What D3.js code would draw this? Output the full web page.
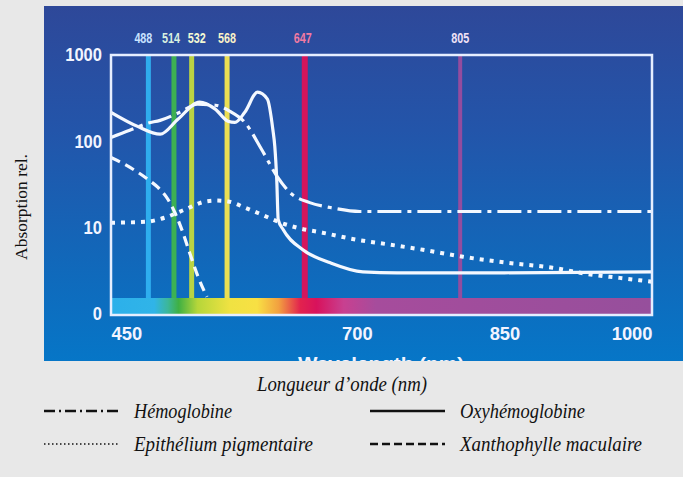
<!DOCTYPE html>
<html><head><meta charset="utf-8">
<script src="https://cdn.jsdelivr.net/npm/d3@7"></script>
<style>body{margin:0;background:#e8e8e8;} svg{display:block}</style>
</head><body>
<svg id="c" width="683" height="477"></svg>
<script>
// ---------- data ----------
const laserNm = [488, 514, 532, 568, 647, 805];
const laserLabels = ["488", "514", "532", "568", "647", "805"];
const xTicks = [450, 700, 850, 1000];
const yTicks = [1, 10, 100, 1000];
const yTickLabels = ["0", "10", "100", "1000"];
const hemoglobine = [[450,111],[469,134],[487,162],[500,175],[520,217],[538,269],[556,262],[571,223],[586,166],[603,81],[619,39],[632,25.5],[652,19.5],[673,17.1],[703,15.4],[800,15.4],[1000,15.4]];
const oxyhemoglobine = [[450,217],[477,149],[500,121],[518,180],[540,284],[556,236],[569,171],[576,166],[586,217],[599,371],[609,308],[614.5,138],[616.5,88],[618.5,36],[620,12.4],[625,9.5],[645,5.55],[673,3.92],[706,3.08],[741,3.0],[850,3.0],[1000,3.08]];
const epithelium = [[450,11.4],[485,11.7],[505,13.1],[525,16.2],[546,20.1],[556,20.6],[569,20.1],[586,17.1],[603,14.2],[620,11.7],[639,10],[665,8.75],[700,7.25],[734,6.35],[767,5.55],[808,4.6],[853,3.92],[899,3.43],[940,2.84],[967,2.62],[1000,2.36]];
const xanthophylle = [[450,65],[464,54],[477.5,43.6],[487.6,36.2],[497.8,29.2],[508,21.2],[515,14.9],[522,9.5],[530,5.1],[538.5,2.7],[547.5,1.58]];
const seriesNames = ["Hémoglobine", "Oxyhémoglobine", "Epithélium pigmentaire", "Xanthophylle maculaire"];

// ---------- styles ----------
const laserColors = ["#30b2f2", "#3fb64e", "#c2da3e", "#f6e64e", "#de1258", "#9a4c9e"];
const laserWidths = [5, 5, 5, 5, 6, 4];
const laserLabelColors = ["#c8e2ff", "#d8f0e0", "#f2f8d4", "#faf2c8", "#f27aa2", "#f0e2f6"];
const laserLabelNudge = [-5, -3, 5, 0, -2, 0];
const dashes = ["24,6,4,6", null, "4,6", "10,6"];
const legendDashes = ["11,4,2,4", null, "1.5,2.5", "8,4"];

const svg = d3.select("#c");
const W = 683, H = 477;
const m = {l: 111, t: 55, r: 652, b: 315};

const defs = svg.append("defs");
const bg = defs.append("linearGradient").attr("id","bg").attr("x1",0).attr("y1",0).attr("x2",0).attr("y2",1);
[["0%","#2e4899"],["35%","#2355aa"],["70%","#1267b9"],["100%","#0676c7"]].forEach(s=>bg.append("stop").attr("offset",s[0]).attr("stop-color",s[1]));
const rb = defs.append("linearGradient").attr("id","rb").attr("x1",0).attr("y1",0).attr("x2",1).attr("y2",0);
[["0%","#2cb0ea"],["8%","#30b4e8"],["10.5%","#3cb79a"],["12.5%","#3fb043"],["16%","#b6d63a"],["22%","#f0e242"],["27%","#f8e044"],["31%","#f2a040"],["35%","#e2224e"],["38%","#d8125c"],["43%","#c84090"],["49%","#a64c9c"],["100%","#964f9c"]].forEach(s=>rb.append("stop").attr("offset",s[0]).attr("stop-color",s[1]));
defs.append("clipPath").attr("id","panel").append("rect").attr("x",44).attr("y",6).attr("width",W-44).attr("height",355);
defs.append("clipPath").attr("id","plot").append("rect").attr("x",m.l).attr("y",m.t).attr("width",m.r-m.l).attr("height",m.b-m.t);

svg.append("rect").attr("width",W).attr("height",H).attr("fill","#e8e8e8");
svg.append("rect").attr("x",44).attr("y",6).attr("width",W-44).attr("height",355).attr("fill","url(#bg)");

const x = d3.scaleLinear().domain([450, 1000]).range([m.l, m.r]);
const y = d3.scaleLog().domain([1, 1000]).range([m.b - 1, m.t]);

const narrow = "'Liberation Sans','Arial',sans-serif";

// rainbow bar
svg.append("rect").attr("x",m.l).attr("y",298).attr("width",m.r-m.l).attr("height",m.b-298).attr("fill","url(#rb)");

// laser lines
const lasers = svg.append("g");
lasers.selectAll("line").data(laserNm).join("line")
  .attr("x1",d=>x(d)).attr("x2",d=>x(d)).attr("y1",m.t).attr("y2",298)
  .attr("stroke",(d,i)=>laserColors[i]).attr("stroke-width",(d,i)=>laserWidths[i]).attr("opacity",0.95);
lasers.selectAll("text").data(laserNm).join("text")
  .attr("x",(d,i)=>x(d)+laserLabelNudge[i]-9).attr("y",43)
  .attr("textLength",18).attr("lengthAdjust","spacingAndGlyphs")
  .attr("font-family",narrow).attr("font-weight","bold").attr("font-size",15)
  .attr("fill",(d,i)=>laserLabelColors[i]).text((d,i)=>laserLabels[i]);

// curves
const line = d3.line().x(d=>x(d[0])).y(d=>y(d[1])).curve(d3.curveMonotoneX);
const series = [hemoglobine, oxyhemoglobine, epithelium, xanthophylle];
const cg = svg.append("g").attr("clip-path","url(#plot)");
series.forEach((s,i)=>{
  cg.append("path").datum(s).attr("d",line).attr("fill","none")
    .attr("stroke","#f4f8ff").attr("stroke-width",i===2?4:3.2)
    .attr("stroke-dasharray",dashes[i]).attr("stroke-linecap","butt");
});

// frame / axes
const axisColor = "#e6eeff";
svg.append("rect").attr("x",m.l).attr("y",m.t).attr("width",m.r-m.l).attr("height",m.b-m.t)
  .attr("fill","none").attr("stroke",axisColor).attr("stroke-width",2.5);

const yAxis = svg.append("g").attr("transform",`translate(${m.l},0)`)
  .call(d3.axisLeft(y).tickValues(yTicks).tickFormat((d,i)=>yTickLabels[i]).tickSize(0).tickPadding(9));
yAxis.select(".domain").remove();
yAxis.selectAll("text").attr("font-family",narrow).attr("font-weight","bold").attr("font-size",18).attr("fill","#f2f4ff")
  .attr("textLength",(d,i)=>yTickLabels[i].length*9.2).attr("lengthAdjust","spacingAndGlyphs");

const xAxis = svg.append("g").attr("transform",`translate(0,${m.b})`)
  .call(d3.axisBottom(x).tickValues(xTicks).tickFormat(d3.format("d")).tickSize(0).tickPadding(12));
xAxis.select(".domain").remove();
xAxis.selectAll("text").attr("font-family",narrow).attr("font-weight","bold").attr("font-size",18).attr("fill","#f2f4ff")
  .attr("textLength",d=>String(d).length*10.2).attr("lengthAdjust","spacingAndGlyphs")
  .attr("text-anchor",(d,i)=> i===0 ? "start" : (i===xTicks.length-1 ? "end" : "middle"));

// clipped English axis title
svg.append("g").attr("clip-path","url(#panel)").append("text")
  .attr("x",381).attr("y",369).attr("text-anchor","middle")
  .attr("textLength",166).attr("lengthAdjust","spacingAndGlyphs")
  .attr("font-family",narrow).attr("font-weight","bold").attr("font-size",17).attr("fill","#f2f4ff")
  .text("Wavelength (nm)");

// outside texts
svg.append("text").attr("transform","translate(27,207) rotate(-90)").attr("text-anchor","middle")
  .attr("font-family","'Liberation Serif','Times New Roman',serif").attr("font-size",17.5).attr("fill","#111")
  .text("Absorption rel.");

const serif = "'Liberation Serif','Times New Roman',serif";
svg.append("text").attr("x",257).attr("y",391).attr("textLength",170).attr("lengthAdjust","spacingAndGlyphs")
  .attr("font-family",serif).attr("font-style","italic").attr("font-size",20).attr("fill","#111")
  .text("Longueur d\u2019onde (nm)");

const legendPos = [[44,411],[370,411],[44,444],[370,444]];
const legendTextW = [98,125,179,182];
const lg = svg.append("g");
seriesNames.forEach((n,i)=>{
  const [lx,ly] = legendPos[i];
  lg.append("line").attr("x1",lx).attr("x2",lx+75).attr("y1",ly).attr("y2",ly)
    .attr("stroke","#111").attr("stroke-width",i===2?1.6:2.6).attr("stroke-dasharray",legendDashes[i]);
  lg.append("text").attr("x",lx+90).attr("y",ly+7).attr("textLength",legendTextW[i]).attr("lengthAdjust","spacingAndGlyphs")
    .attr("font-family",serif).attr("font-style","italic").attr("font-size",21).attr("fill","#111").text(n);
});
</script>
</body></html>
